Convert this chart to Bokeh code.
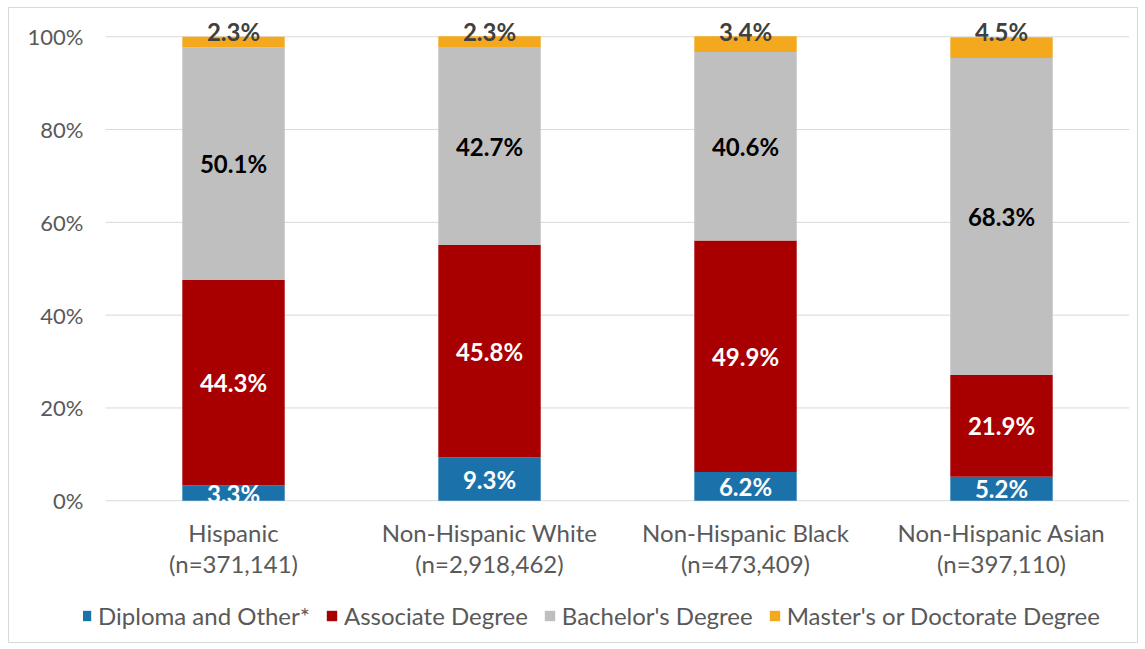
from bokeh.plotting import figure
from bokeh.models import (ColumnDataSource, Range1d, FixedTicker,
                          PrintfTickFormatter, Legend)
from bokeh.core.properties import value
from bokeh.embed import file_html
from bokeh.resources import INLINE

categories = ["Hispanic", "Non-Hispanic White", "Non-Hispanic Black", "Non-Hispanic Asian"]
sample_sizes = ["(n=371,141)", "(n=2,918,462)", "(n=473,409)", "(n=397,110)"]
series_names = ["Diploma and Other*", "Associate Degree", "Bachelor's Degree",
                "Master's or Doctorate Degree"]
diploma = [3.3, 9.3, 6.2, 5.2]
associate = [44.3, 45.8, 49.9, 21.9]
bachelor = [50.1, 42.7, 40.6, 68.3]
master = [2.3, 2.3, 3.4, 4.5]
y_ticks = [0, 20, 40, 60, 80, 100]

colors = ["#1b72ab", "#a80000", "#bfbfbf", "#f4a81d"]
label_colors = ["#ffffff", "#ffffff", "#000000", "#404040"]
FONT = "Lato"
TEXT_GRAY = "#595959"
GRID = "#d9d9d9"

n_cat = len(categories)
x_pos = [i + 0.5 for i in range(n_cat)]  # category slot centres

keys = ["diploma", "associate", "bachelor", "master"]
data = {"x": x_pos, "cat": categories, "diploma": diploma, "associate": associate,
        "bachelor": bachelor, "master": master}
source = ColumnDataSource(data)

# frame extends a little left of the plot area (for the legend) and below 0
# (for the category labels); gridlines are drawn over the category slots only
p = figure(x_range=Range1d(-0.086, n_cat), y_range=Range1d(-29.9, 103.5),
           width=1130, height=636, output_backend="svg", toolbar_location=None,
           min_border_left=74, min_border_right=10, min_border_top=12,
           min_border_bottom=5)
p.styles = {"border": "1px solid #d9d9d9", "margin-left": "8px", "margin-top": "7px"}

# horizontal gridlines
p.segment(x0=[0] * len(y_ticks), x1=[n_cat] * len(y_ticks), y0=y_ticks, y1=y_ticks,
          line_color=GRID, line_width=1)

renderers = p.vbar_stack(keys, x="x", width=0.4, color=colors, source=source,
                         line_color=None)

# data labels
series = [diploma, associate, bachelor, master]
bottoms = [0.0] * n_cat
for i, vals in enumerate(series):
    ys, texts = [], []
    for j, v in enumerate(vals):
        if i == len(series) - 1:
            y = 101.2
        else:
            y = bottoms[j] + v / 2
        ys.append(y)
        texts.append(f"{v:.1f}%")
        bottoms[j] += v
    p.text(x=x_pos, y=ys, text=texts, text_align="center", text_baseline="middle",
           text_font=value(FONT), text_font_style="bold", text_font_size="24px",
           text_color=label_colors[i])

# category labels (two lines) under the baseline
p.text(x=x_pos, y=[-6.8] * n_cat, text=categories,
       text_align="center", text_baseline="middle", text_font=value(FONT),
       text_font_size="24px", text_color=TEXT_GRAY)
p.text(x=x_pos, y=[-13.6] * n_cat, text=sample_sizes,
       text_align="center", text_baseline="middle", text_font=value(FONT),
       text_font_size="24px", text_color=TEXT_GRAY)

# axes
p.xaxis.visible = False
p.yaxis.ticker = FixedTicker(ticks=y_ticks)
p.yaxis.formatter = PrintfTickFormatter(format="%d%%")
p.yaxis.axis_line_color = None
p.yaxis.major_tick_line_color = None
p.yaxis.minor_tick_line_color = None
p.yaxis.major_label_text_font = FONT
p.yaxis.major_label_text_font_size = "22px"
p.yaxis.major_label_text_color = TEXT_GRAY
p.yaxis.major_label_standoff = -6

p.xgrid.grid_line_color = None
p.ygrid.grid_line_color = None
p.outline_line_color = None

legend = Legend(items=[(n, [r]) for n, r in zip(series_names, renderers)],
                orientation="horizontal", location=(-4, 9),
                label_text_font=FONT, label_text_font_size="24px",
                label_text_color=TEXT_GRAY, glyph_width=13, glyph_height=13,
                label_standoff=6, spacing=15, border_line_color=None,
                background_fill_alpha=0, padding=4, margin=0)
p.add_layout(legend, "center")

open("out.html", "w").write(file_html(p, INLINE))
